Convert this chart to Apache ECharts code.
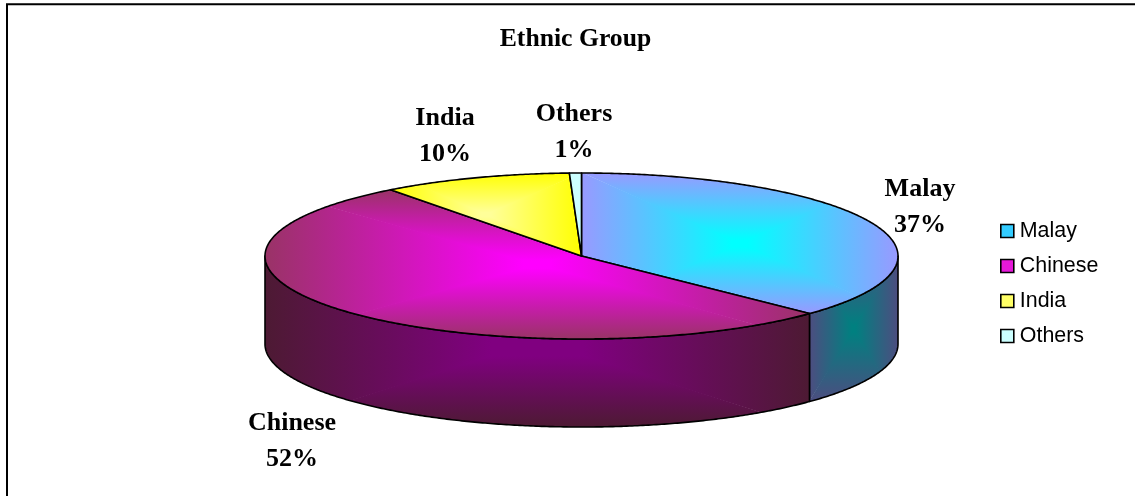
<!DOCTYPE html>
<html>
<head>
<meta charset="utf-8">
<style>html,body{margin:0;padding:0;background:#fff}#c{width:1135px;height:496px}</style>
<script src="https://cdn.jsdelivr.net/npm/echarts@6/dist/echarts.min.js"></script>
</head>
<body>
<div id="c"></div>
<script>
var categories = ['Malay', 'Chinese', 'India', 'Others'];
var shares = [37.2, 52.49, 9.7, 0.61];
var titleText = 'Ethnic Group';

var topColors = [['#00ffff', '#9999ff'], ['#ff00ff', '#993366'], ['#ffff99', '#ffff00'], ['#ccffff', '#ccffff']];
var sideColors = [['#008080', '#4d4d80'], ['#800080', '#4d1a33'], ['#808066', '#808000'], ['#668080', '#668080']];
var legendColors = ['#33ccff', '#e619d9', '#ffff66', '#ccffff'];
var labelCenters = [[920, 207], [292, 441], [445, 136.5], [574, 132.5]];

var PIE = { cx: 581.5, cy: 256, rx: 316.5, ry: 83, depth: 88 };
var chart = echarts.init(document.getElementById('c'));
var total = shares.reduce(function (a, b) { return a + b; }, 0);

function rimPoint(deg, dy) {
  var r = deg * Math.PI / 180;
  return [PIE.cx + PIE.rx * Math.sin(r), PIE.cy - PIE.ry * Math.cos(r) + (dy || 0)];
}
function arc(a, b, dy) {
  var pts = [], n = Math.max(2, Math.ceil((b - a) / 0.5));
  for (var i = 0; i <= n; i++) pts.push(rimPoint(a + (b - a) * i / n, dy));
  return pts;
}
function bbox(pts) {
  var x0 = 1e9, x1 = -1e9, y0 = 1e9, y1 = -1e9;
  pts.forEach(function (p) {
    x0 = Math.min(x0, p[0]); x1 = Math.max(x1, p[0]);
    y0 = Math.min(y0, p[1]); y1 = Math.max(y1, p[1]);
  });
  return { x0: x0, x1: x1, y0: y0, y1: y1, cx: (x0 + x1) / 2, cy: (y0 + y1) / 2 };
}
// Rectangular "from centre" gradient: four clipped wedges meeting at the box centre.
function gradientFace(pts, colors, plateau) {
  var b = bbox(pts), e = 1.2, cx = b.cx, cy = b.cy;
  function stops() {
    return [{ offset: 0, color: colors[0] }, { offset: plateau, color: colors[0] }, { offset: 1, color: colors[1] }];
  }
  function wedge(tri, x2, y2) {
    return {
      type: 'polygon', shape: { points: tri }, silent: true,
      style: { fill: { type: 'linear', x: cx, y: cy, x2: x2, y2: y2, global: true, colorStops: stops() }, stroke: null }
    };
  }
  var wedges = [
    wedge([[cx, cy + e], [b.x0 - e, b.y0 - e], [b.x1 + e, b.y0 - e]], cx, b.y0),
    wedge([[cx, cy - e], [b.x0 - e, b.y1 + e], [b.x1 + e, b.y1 + e]], cx, b.y1),
    wedge([[cx + e, cy], [b.x0 - e, b.y0 - e], [b.x0 - e, b.y1 + e]], b.x0, cy),
    wedge([[cx - e, cy], [b.x1 + e, b.y0 - e], [b.x1 + e, b.y1 + e]], b.x1, cy)
  ];
  return [
    { type: 'group', children: wedges, clipPath: { type: 'polygon', shape: { points: pts } } },
    { type: 'polygon', shape: { points: pts }, silent: true, style: { fill: 'none', stroke: '#000', lineWidth: 1.6, lineJoin: 'round' } }
  ];
}
function buildSlice(idx, a0, a1) {
  var children = [];
  var s0 = Math.max(a0, 90), s1 = Math.min(a1, 270);
  if (s1 > s0) {
    var up = arc(s0, s1, 0), down = arc(s0, s1, PIE.depth).reverse();
    children = children.concat(gradientFace(up.concat(down), sideColors[idx], idx === 1 ? 0.17 : 0.04));
  }
  var top = [[PIE.cx, PIE.cy]].concat(arc(a0, a1, 0));
  children = children.concat(gradientFace(top, topColors[idx], 0.05));
  return { type: 'group', children: children };
}

var series = categories.map(function (name, idx) {
  var before = shares.slice(0, idx).reduce(function (a, b) { return a + b; }, 0);
  return {
    type: 'custom', name: name, coordinateSystem: 'none', animation: false, silent: true,
    itemStyle: { color: legendColors[idx] },
    data: [[shares[idx]]], z: 2 + idx,
    renderItem: function (params, api) {
      var v = api.value(0);
      return buildSlice(idx, before / total * 360, (before + v) / total * 360);
    }
  };
});

// Slice labels: name over rounded percentage, derived from the data.
var labelGraphics = categories.map(function (name, idx) {
  return {
    type: 'text', x: labelCenters[idx][0], y: labelCenters[idx][1], z: 20,
    style: {
      text: name + '\n' + Math.round(shares[idx] / total * 100) + '%',
      font: 'bold 26px "Liberation Serif"', fill: '#000', align: 'center', verticalAlign: 'middle', lineHeight: 36
    }
  };
});

chart.setOption({
  animation: false,
  backgroundColor: '#fff',
  title: {
    text: titleText, left: 570.5, top: 21, textAlign: 'center',
    textStyle: { fontFamily: 'Liberation Serif', fontWeight: 'bold', fontSize: 25.7, color: '#000' }
  },
  legend: {
    orient: 'vertical', left: 995, top: 215.5, selectedMode: false,
    itemWidth: 13, itemHeight: 13, itemGap: 14, icon: 'rect',
    textStyle: { fontFamily: 'Liberation Sans', fontSize: 21.4, color: '#000', padding: [0, 0, 0, 1] },
    itemStyle: { borderColor: '#000', borderWidth: 1.6 },
    data: categories
  },
  graphic: [{
    type: 'polyline', shape: { points: [[7, 496], [7, 4.3], [1135, 4.3]] }, z: 0, silent: true,
    style: { fill: 'none', stroke: '#000', lineWidth: 2 }
  }].concat(labelGraphics),
  series: series
});
</script>
</body>
</html>
